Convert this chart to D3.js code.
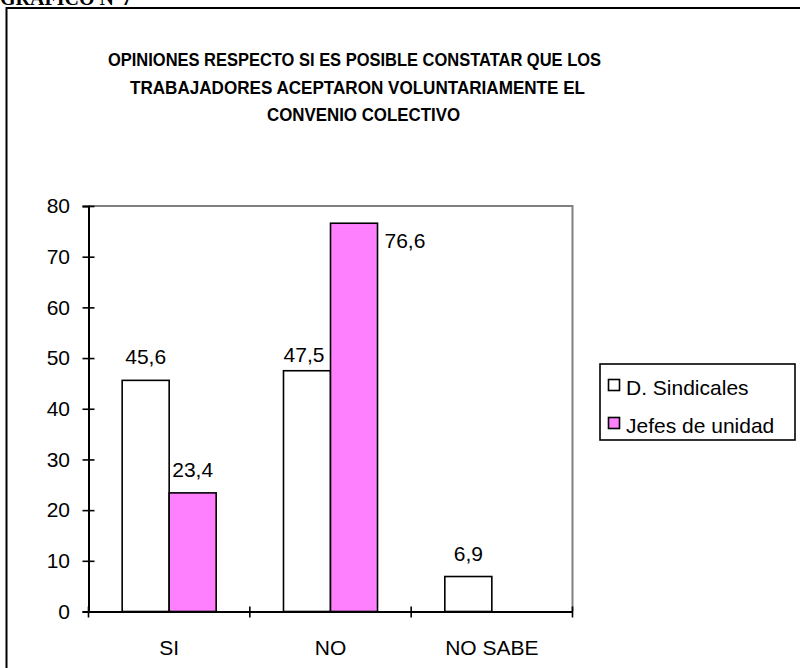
<!DOCTYPE html>
<html><head><meta charset="utf-8">
<script src="https://cdn.jsdelivr.net/npm/d3@7"></script>
<style>body{margin:0;background:#fff;}svg{display:block;}</style>
</head><body>
<script>
const categories = ["SI", "NO", "NO SABE"];
const seriesNames = ["D. Sindicales", "Jefes de unidad"];
const sindicales = [45.6, 47.5, 6.9];
const jefes = [23.4, 76.6, null];
const yTicks = [0, 10, 20, 30, 40, 50, 60, 70, 80];
const titleLines = ["OPINIONES RESPECTO SI ES POSIBLE CONSTATAR QUE LOS", "TRABAJADORES ACEPTARON VOLUNTARIAMENTE EL", "CONVENIO COLECTIVO"];
const colors = ["#FFFFFF", "#FF80FF"];

const W = 800, H = 668;
const svg = d3.select("body").append("svg").attr("width", W).attr("height", H);
const font = "Arial, 'Liberation Sans', sans-serif";
const fs = 21;

// header text (partly cut off at top in the original)
svg.append("text").attr("x", 0).attr("y", 5).attr("font-family", "'Liberation Serif', 'Times New Roman', serif")
  .attr("font-weight", "bold").attr("font-size", 20).text("GRAFICO N°7");

// outer frame
svg.append("rect").attr("x", 6.5).attr("y", 8).attr("width", 820).attr("height", 700)
  .attr("fill", "none").attr("stroke", "#000").attr("stroke-width", 2);

// title
const titleLayout = [{ x: 108, w: 493 }, { x: 130, w: 455 }, { x: 267, w: 193 }];
titleLines.forEach((t, i) => {
  svg.append("text").attr("x", titleLayout[i].x).attr("y", 66 + i * 27.5)
    .attr("font-family", font).attr("font-weight", "bold").attr("font-size", 17.5)
    .attr("textLength", titleLayout[i].w).attr("lengthAdjust", "spacingAndGlyphs").text(t);
});

const x = d3.scaleBand().domain(categories).range([88.5, 572.5]).padding(0);
const xs = d3.scaleBand().domain(seriesNames).range([0, x.bandwidth()]).paddingInner(0).paddingOuter(0.716);
const y = d3.scaleLinear().domain([0, 80]).range([611.5, 206]);

// plot area border (gray top/right)
svg.append("path").attr("d", `M${x.range()[0]},${y(80)}H${x.range()[1]}V${y(0)}`)
  .attr("fill", "none").attr("stroke", "#808080").attr("stroke-width", 2);

const data = categories.map((c, i) => ({ cat: c, vals: [sindicales[i], jefes[i]] }));

const g = svg.append("g");
data.forEach(d => {
  d.vals.forEach((v, j) => {
    if (v == null) return;
    g.append("rect")
      .attr("x", x(d.cat) + xs(seriesNames[j]))
      .attr("y", y(v))
      .attr("width", xs.bandwidth())
      .attr("height", y(0) - y(v))
      .attr("fill", colors[j]).attr("stroke", "#000").attr("stroke-width", 1.6);
  });
});

// value labels (small manual nudges as in the original)
const nudge = { "NO|0": [-3, 7], "NO|1": [0, 0] };
data.forEach(d => {
  d.vals.forEach((v, j) => {
    if (v == null) return;
    const bx = x(d.cat) + xs(seriesNames[j]);
    let lx = bx + xs.bandwidth() / 2, ly = y(v) - 16, anchor = "middle";
    if (v > 70) { lx = bx + xs.bandwidth() + 7; ly = y(v) + 25; anchor = "start"; }
    const n = nudge[d.cat + "|" + j];
    if (n) { lx += n[0]; ly += n[1]; }
    svg.append("text").attr("x", lx).attr("y", ly).attr("text-anchor", anchor)
      .attr("font-family", font).attr("font-size", fs).text(String(v).replace(".", ","));
  });
});

// y axis
const yAxis = svg.append("g").attr("transform", `translate(${x.range()[0]},0)`)
  .call(d3.axisLeft(y).tickValues(yTicks).tickSize(6).tickFormat(d3.format("d")));
yAxis.select(".domain").attr("stroke", "#000").attr("stroke-width", 2);
yAxis.selectAll(".tick line").attr("x1", -6).attr("x2", 6).attr("stroke-width", 1.6);
yAxis.selectAll(".tick text").attr("x", -18.5).attr("font-family", font).attr("font-size", fs).attr("fill", "#000");

// x axis
const xAxis = svg.append("g").attr("transform", `translate(0,${y(0)})`)
  .call(d3.axisBottom(x).tickSize(0).tickSizeOuter(0));
xAxis.select(".domain").attr("stroke", "#000").attr("stroke-width", 2);
xAxis.selectAll(".tick text").attr("y", 43.5).attr("dy", 0).attr("font-family", font).attr("font-size", fs).attr("fill", "#000");
const bounds = categories.map(c => x(c)).concat([x.range()[1]]);
xAxis.selectAll(".sep").data(bounds).enter().append("line")
  .attr("x1", d => d).attr("x2", d => d).attr("y1", -5).attr("y2", 6)
  .attr("stroke", "#000").attr("stroke-width", 1.6);

// legend
const lg = svg.append("g");
lg.append("rect").attr("x", 600).attr("y", 364).attr("width", 195).attr("height", 76)
  .attr("fill", "#fff").attr("stroke", "#000").attr("stroke-width", 1.6);
seriesNames.forEach((s, i) => {
  lg.append("rect").attr("x", 608.5).attr("y", 379.5 + i * 38).attr("width", 11).attr("height", 11)
    .attr("fill", colors[i]).attr("stroke", "#000").attr("stroke-width", 1.6);
  lg.append("text").attr("x", 626).attr("y", 395 + i * 38).attr("font-family", font).attr("font-size", fs).text(s);
});
</script>
</body></html>
